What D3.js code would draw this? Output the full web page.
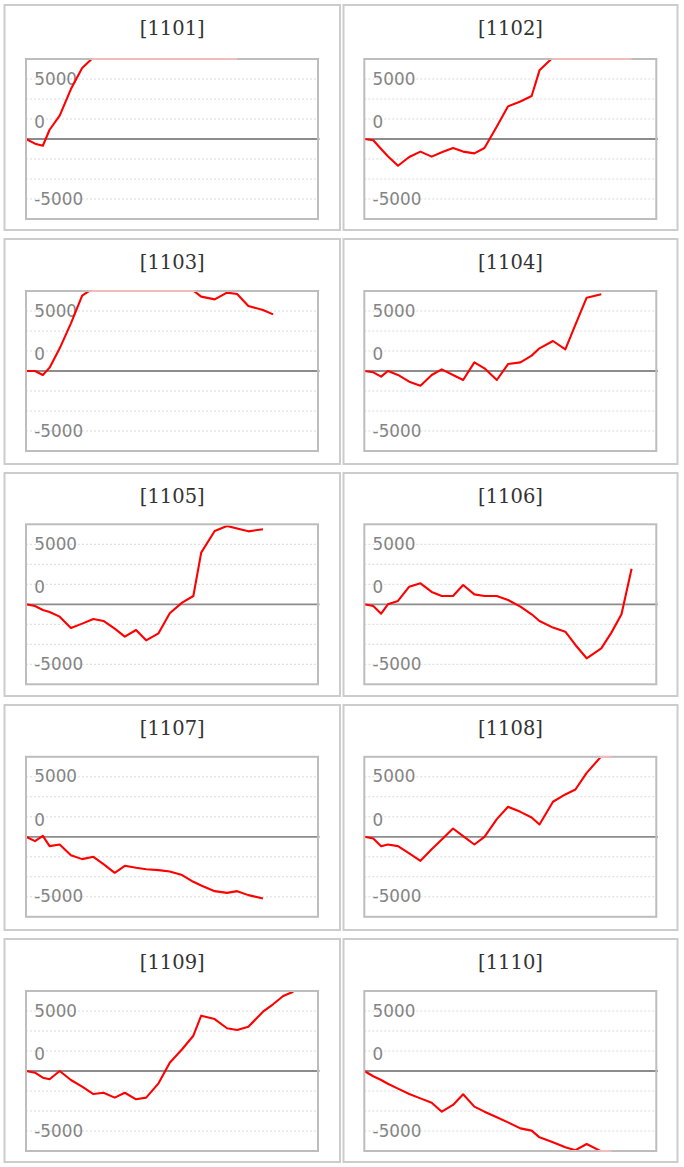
<!DOCTYPE html>
<html>
<head>
<meta charset="utf-8">
<script src="https://cdn.jsdelivr.net/npm/d3@7"></script>
<style>
  html, body { margin: 0; padding: 0; background: #ffffff; }
  svg { display: block; }
</style>
</head>
<body>
<div id="chart"></div>
<script>
// ---------------- data ----------------
const panelIds = ["1101", "1102", "1103", "1104", "1105", "1106", "1107", "1108", "1109", "1110"];

// x values (time positions of observations, in days)
const xs = [0, 0.8, 1.5, 2.1, 3.0, 4.0, 5.0, 6.0, 6.9, 7.9, 8.8, 9.8, 10.7, 11.8, 12.8, 13.9,
            14.9, 15.6, 16.8, 17.9, 18.8, 19.8, 21.1, 22.0, 22.9, 23.8];

const s1101 = [0, -390, -560, 770, 1950, 4160, 5920, 6800, 7300, 7800, 8200, 8500, 8800, 9000,
               9300, 9500, 9700, 9900, 10100, 10300, 10500];
const s1102 = [0, -110, -830, -1440, -2230, -1500, -1050, -1470, -1110, -750, -1050, -1200, -750,
               1050, 2720, 3130, 3580, 5720, 6800, 7200, 7600, 8000, 8300, 8500, 8800, 9000];
const s1103 = [0, 0, -330, 280, 1890, 3970, 6280, 6900, 7400, 7800, 8000, 8200, 8100, 7900, 7500,
               7100, 6700, 6200, 5970, 6530, 6420, 5420, 5080, 4720];
const s1104 = [0, -110, -470, 0, -330, -890, -1230, -330, 140, -330, -750, 720, 220, -750, 580,
               720, 1280, 1890, 2500, 1810, 3870, 6110, 6390];
const s1105 = [0, -140, -470, -640, -1030, -1970, -1610, -1220, -1390, -2030, -2690, -2140, -3000,
               -2420, -750, 140, 690, 4310, 6110, 6530, 6310, 6080, 6250];
const s1106 = [0, -140, -780, 0, 280, 1470, 1750, 1030, 690, 690, 1610, 830, 690, 690, 360, -190,
               -830, -1390, -1940, -2280, -3390, -4500, -3670, -2360, -830, 2970];
const s1107 = [0, -360, 80, -780, -640, -1530, -1860, -1670, -2280, -3000, -2420, -2580, -2700,
               -2780, -2890, -3190, -3750, -4060, -4530, -4670, -4530, -4860, -5140];
const s1108 = [0, -140, -780, -640, -780, -1390, -2000, -1030, -220, 690, 60, -640, 0, 1470, 2500,
               2080, 1610, 1030, 2920, 3530, 3940, 5330, 6700, 7400];
const s1109 = [0, -140, -560, -690, 0, -750, -1310, -1920, -1810, -2220, -1810, -2360, -2220, -1030,
               690, 1810, 2940, 4610, 4330, 3560, 3420, 3690, 4940, 5560, 6250, 6610];
const s1110 = [0, -440, -750, -1060, -1470, -1920, -2280, -2640, -3390, -2830, -1940, -2970, -3390,
               -3860, -4280, -4780, -4970, -5530, -5940, -6360, -6600, -6080, -6700, -7100];

const seriesList = [s1101, s1102, s1103, s1104, s1105, s1106, s1107, s1108, s1109, s1110];

const yTickValues = [5000, 0, -5000];
const yTickLabels = ["5000", "0", "-5000"];
const yMax = 20000 / 3;          // axis view window
const xMax = 26;

// ---------------- layout ----------------
const W = 684, H = 1167;
const colBoxX = [4.5, 343.5], colBoxW = [335.5, 334];
const colPlotX = [26, 364.3], plotW = 292;
const rowBoxY = [5, 239, 473, 705, 939], rowBoxH = [225, 225, 223, 225, 223];
const rowPlotY = [59, 291, 524.3, 756.8, 991], plotH = 160;

const svg = d3.select("#chart").append("svg")
  .attr("width", W).attr("height", H)
  .attr("viewBox", `0 0 ${W} ${H}`);

const xScale = d3.scaleLinear().domain([0, xMax]).range([0, plotW]);
const yScale = d3.scaleLinear().domain([-yMax, yMax]).range([plotH, 0]);
const gridValues = d3.range(-3, 4).filter(i => i !== 0).map(i => i * yMax / 4);

const line = d3.line()
  .x((d, i) => xScale(xs[i]))
  .y(d => yScale(d));

// same line with out-of-window values pinned to the frame
const lineClamped = d3.line()
  .x((d, i) => xScale(xs[i]))
  .y(d => yScale(Math.max(-yMax, Math.min(yMax, d))));

const defs = svg.append("defs");

panelIds.forEach((id, p) => {
  const col = p % 2, row = Math.floor(p / 2);
  const bx = colBoxX[col], by = rowBoxY[row], bw = colBoxW[col], bh = rowBoxH[row];
  const px = colPlotX[col], py = rowPlotY[row];

  // outer panel box
  svg.append("rect")
    .attr("x", bx).attr("y", by).attr("width", bw).attr("height", bh)
    .attr("fill", "#fff").attr("stroke", "#cccccc").attr("stroke-width", 2);

  // title
  svg.append("text")
    .attr("x", bx + bw / 2).attr("y", by + 29.5)
    .attr("text-anchor", "middle")
    .attr("font-family", "'DejaVu Serif', 'Liberation Serif', serif")
    .attr("font-size", 19.5)
    .attr("fill", "#333333")
    .text(`[${id}]`);

  const g = svg.append("g").attr("transform", `translate(${px},${py})`);

  // dotted gridlines
  g.selectAll("line.grid").data(gridValues).enter().append("line")
    .attr("class", "grid")
    .attr("x1", 0).attr("x2", plotW)
    .attr("y1", d => yScale(d)).attr("y2", d => yScale(d))
    .attr("stroke", "#dadada").attr("stroke-width", 1)
    .attr("stroke-dasharray", "2,2");

  // axis labels (inside)
  const axis = d3.axisRight(yScale)
    .tickValues(yTickValues)
    .tickSize(0)
    .tickPadding(8.3)
    .tickFormat((d, i) => yTickLabels[i]);
  const ag = g.append("g").call(axis);
  ag.select(".domain").remove();
  ag.selectAll("text")
    .attr("font-family", "'DejaVu Sans', Verdana, sans-serif")
    .attr("font-size", 16.8)
    .attr("fill", "#848484")
    .attr("dy", d => d === 0 ? "-0.68em" : "0.3em");

  // zero baseline
  g.append("line")
    .attr("x1", 0).attr("x2", plotW + 1.5)
    .attr("y1", yScale(0)).attr("y2", yScale(0))
    .attr("stroke", "#8c8c8c").attr("stroke-width", 1.8);

  // clip for the series line
  const clipId = `clip-${id}`;
  defs.append("clipPath").attr("id", clipId)
    .append("rect")
    .attr("x", -3).attr("y", 1).attr("width", plotW + 6).attr("height", plotH - 2);

  const data = seriesList[p];

  g.append("path")
    .datum(data)
    .attr("d", line)
    .attr("clip-path", `url(#${clipId})`)
    .attr("fill", "none")
    .attr("stroke", "#ff0000")
    .attr("stroke-width", 2.1)
    .attr("stroke-linejoin", "round");

  // plot frame
  g.append("rect")
    .attr("x", 0).attr("y", 0).attr("width", plotW).attr("height", plotH)
    .attr("fill", "none").attr("stroke", "#bdbdbd").attr("stroke-width", 2);

  // out-of-window part of the line lying on the frame (pale)
  const clipEdge = `clipedge-${id}`;
  const ce = defs.append("clipPath").attr("id", clipEdge);
  ce.append("rect").attr("x", -3).attr("y", -1.3).attr("width", plotW + 6).attr("height", 2.4);
  ce.append("rect").attr("x", -3).attr("y", plotH - 1.1).attr("width", plotW + 6).attr("height", 2.4);

  g.append("path")
    .datum(data)
    .attr("d", lineClamped)
    .attr("clip-path", `url(#${clipEdge})`)
    .attr("fill", "none")
    .attr("stroke", "#f2bcbc")
    .attr("stroke-width", 2)
    .attr("stroke-linejoin", "round");
});
</script>
</body>
</html>
